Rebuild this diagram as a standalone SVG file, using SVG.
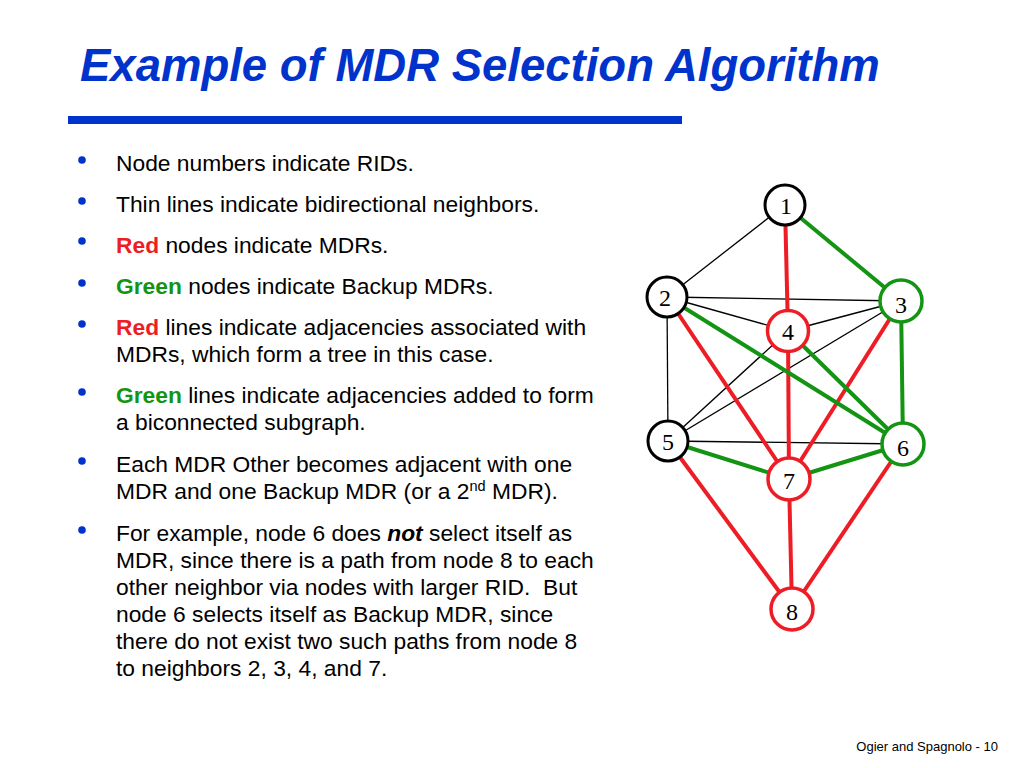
<svg xmlns="http://www.w3.org/2000/svg" width="1024" height="768" viewBox="0 0 1024 768">
<style>
.title{font-family:"Liberation Sans",Arial,sans-serif;font-weight:bold;font-style:italic;font-size:45.5px;fill:#0033cc}
.body{font-family:"Liberation Sans",Arial,sans-serif;font-size:22.8px;fill:#000}
.red{fill:#ee1c24;font-weight:bold}
.green{fill:#139413;font-weight:bold}
.bul{fill:#0033cc}
.foot{font-family:"Liberation Sans",Arial,sans-serif;font-size:13px;fill:#000}
.thin{stroke:#000;stroke-width:1.3;fill:none}
.r{stroke:#ee1c24;stroke-width:4;fill:none}
.g{stroke:#139413;stroke-width:4;fill:none}
.node circle{fill:#fff;stroke-width:3.5}
.blk circle{stroke:#000;stroke-width:3}
.rn circle{stroke:#ee1c24}
.gn circle{stroke:#139413}
.node text{font-family:"Liberation Serif","Times New Roman",serif;font-size:24px;fill:#000;text-anchor:middle}
</style>
<rect width="1024" height="768" fill="#fff"/>
<text class="title" x="80" y="81">Example of MDR Selection Algorithm</text>
<rect x="68" y="116" width="614" height="8" fill="#0033cc"/>

<g id="bullets">
<circle class="bul" cx="82" cy="160" r="3.8"/>
<circle class="bul" cx="82" cy="201" r="3.8"/>
<circle class="bul" cx="82" cy="241" r="3.8"/>
<circle class="bul" cx="82" cy="283" r="3.8"/>
<circle class="bul" cx="82" cy="324" r="3.8"/>
<circle class="bul" cx="82" cy="392" r="3.8"/>
<circle class="bul" cx="82" cy="461" r="3.8"/>
<circle class="bul" cx="82" cy="530" r="3.8"/>
</g>
<g id="text">
<text class="body" x="116" y="171">Node numbers indicate RIDs.</text>
<text class="body" x="116" y="212">Thin lines indicate bidirectional neighbors.</text>
<text class="body" x="116" y="253"><tspan class="red">Red</tspan> nodes indicate MDRs.</text>
<text class="body" x="116" y="294"><tspan class="green">Green</tspan> nodes indicate Backup MDRs.</text>
<text class="body" x="116" y="335"><tspan class="red">Red</tspan> lines indicate adjacencies associated with</text>
<text class="body" x="116" y="362">MDRs, which form a tree in this case.</text>
<text class="body" x="116" y="403"><tspan class="green">Green</tspan> lines indicate adjacencies added to form</text>
<text class="body" x="116" y="430">a biconnected subgraph.</text>
<text class="body" x="116" y="472">Each MDR Other becomes adjacent with one</text>
<text class="body" x="116" y="499">MDR and one Backup MDR (or a 2<tspan font-size="14.5" dy="-8">nd</tspan><tspan dy="8"> MDR).</tspan></text>
<text class="body" x="116" y="541">For example, node 6 does <tspan font-weight="bold" font-style="italic">not</tspan> select itself as</text>
<text class="body" x="116" y="568">MDR, since there is a path from node 8 to each</text>
<text class="body" x="116" y="595" xml:space="preserve">other neighbor via nodes with larger RID.  But</text>
<text class="body" x="116" y="622">node 6 selects itself as Backup MDR, since</text>
<text class="body" x="116" y="649">there do not exist two such paths from node 8</text>
<text class="body" x="116" y="676">to neighbors 2, 3, 4, and 7.</text>
</g>
<text class="foot" x="998" y="751" text-anchor="end">Ogier and Spagnolo - 10</text>

<g id="connectors">
<line class="thin" x1="785" y1="205" x2="667" y2="297"/>
<line class="thin" x1="667" y1="297" x2="901" y2="301"/>
<line class="thin" x1="667" y1="297" x2="788" y2="331"/>
<line class="thin" x1="788" y1="331" x2="901" y2="301"/>
<line class="thin" x1="667" y1="297" x2="668" y2="441"/>
<line class="thin" x1="668" y1="441" x2="788" y2="331"/>
<line class="thin" x1="668" y1="441" x2="901" y2="301"/>
<line class="thin" x1="668" y1="441" x2="903" y2="444"/>
<line class="r" x1="785" y1="205" x2="788" y2="331"/>
<line class="r" x1="788" y1="331" x2="789" y2="479"/>
<line class="r" x1="667" y1="297" x2="789" y2="479"/>
<line class="r" x1="901" y1="301" x2="789" y2="479"/>
<line class="r" x1="668" y1="441" x2="792" y2="609"/>
<line class="r" x1="789" y1="479" x2="792" y2="609"/>
<line class="r" x1="903" y1="444" x2="792" y2="609"/>
<line class="g" x1="785" y1="205" x2="901" y2="301"/>
<line class="g" x1="667" y1="297" x2="903" y2="444"/>
<line class="g" x1="788" y1="331" x2="903" y2="444"/>
<line class="g" x1="901" y1="301" x2="903" y2="444"/>
<line class="g" x1="668" y1="441" x2="789" y2="479"/>
<line class="g" x1="789" y1="479" x2="903" y2="444"/>
</g>

<g id="node1" class="node blk"><circle cx="785" cy="205" r="20"/><text x="786" y="214">1</text></g>
<g id="node2" class="node blk"><circle cx="667" cy="297" r="20"/><text x="665" y="306">2</text></g>
<g id="node3" class="node gn"><circle cx="901" cy="301" r="21"/><text x="901" y="313">3</text></g>
<g id="node4" class="node rn"><circle cx="788" cy="331" r="20.5"/><text x="788" y="340">4</text></g>
<g id="node5" class="node blk"><circle cx="668" cy="441" r="20"/><text x="668" y="450">5</text></g>
<g id="node6" class="node gn"><circle cx="903" cy="444" r="21"/><text x="903" y="456">6</text></g>
<g id="node7" class="node rn"><circle cx="789" cy="479" r="21"/><text x="789" y="489">7</text></g>
<g id="node8" class="node rn"><circle cx="792" cy="609" r="21"/><text x="792" y="620">8</text></g>
</svg>
